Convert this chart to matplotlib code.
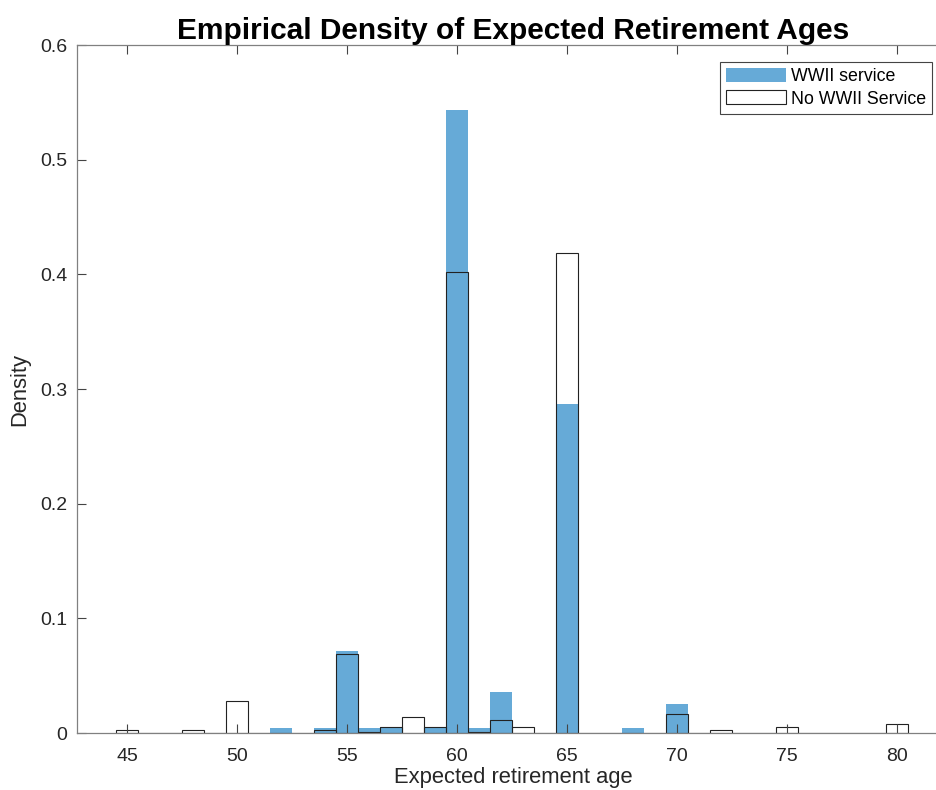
import numpy as np
import matplotlib
matplotlib.use('Agg')
import matplotlib.pyplot as plt

plt.rcParams['font.family'] = ['Liberation Sans', 'DejaVu Sans']

# one-year bins centred on each age
ages = np.arange(45, 81)

# density per age, WWII veterans
wwii = {52: 0.0046, 54: 0.0044, 55: 0.0715, 56: 0.0046, 57: 0.0052,
        59: 0.0052, 60: 0.5432, 61: 0.0046, 62: 0.0357, 65: 0.2868,
        68: 0.0046, 70: 0.0253}

# density per age, no WWII service
no_wwii = {45: 0.0029, 48: 0.0029, 50: 0.0276, 54: 0.0024, 55: 0.0689,
           56: 0.0010, 57: 0.0052, 58: 0.0137, 59: 0.0052, 60: 0.4017,
           61: 0.0010, 62: 0.0110, 63: 0.0055, 65: 0.4182, 70: 0.0163,
           72: 0.0026, 75: 0.0055, 80: 0.0078}

wwii_density = [wwii.get(a, 0.0) for a in ages]
no_wwii_density = [no_wwii.get(a, 0.0) for a in ages]

yticks = [0, 0.1, 0.2, 0.3, 0.4, 0.5, 0.6]
ytick_labels = ['0', '0.1', '0.2', '0.3', '0.4', '0.5', '0.6']
xticks = [45, 50, 55, 60, 65, 70, 75, 80]

W, H = 937, 790
fig = plt.figure(figsize=(W / 100.0, H / 100.0), dpi=100)
ax = fig.add_axes([77.0 / W, 57.0 / H, (950.0 - 77.0) / W, (733.0 - 45.0) / H])

ax.bar(ages, wwii_density, width=1.0, color='#66aad7', edgecolor='none',
       label='WWII service', zorder=1)
ax.bar(ages, no_wwii_density, width=1.0, facecolor='none', edgecolor='#222222',
       linewidth=0.8, label='No WWII Service', zorder=1.2)

ax.set_xlim(42.73, 82.41)
ax.set_ylim(0, 0.6)
ax.set_xticks(xticks)
ax.set_yticks(yticks)
ax.set_yticklabels(ytick_labels)

for s in ax.spines.values():
    s.set_color('#808080')
    s.set_linewidth(0.9)
ax.tick_params(direction='in', length=6.5, width=0.8, color='#444444',
               labelsize=14, labelcolor='#262626', top=True, right=True)
ax.tick_params(axis='x', pad=11)
ax.tick_params(axis='y', pad=7)

ax.set_xlabel('Expected retirement age', fontsize=15.8, color='#262626', labelpad=1)
ax.set_ylabel('Density', fontsize=15.8, color='#262626', labelpad=7)
ax.set_title('Empirical Density of Expected Retirement Ages', fontsize=21.5,
             fontweight='bold', pad=4)

leg = ax.legend(loc='upper right', bbox_to_anchor=(932.0 / W, 1 - 62.0 / H),
                bbox_transform=fig.transFigure, borderaxespad=0, fontsize=12.75,
                fancybox=False, framealpha=1, edgecolor='#444444',
                handlelength=3.4, handleheight=0.85, handletextpad=0.25,
                labelspacing=0.28, borderpad=0.35)
leg.get_frame().set_linewidth(0.8)
leg.legend_handles[1].set_facecolor('white')

fig.savefig('out.png', dpi=100)
